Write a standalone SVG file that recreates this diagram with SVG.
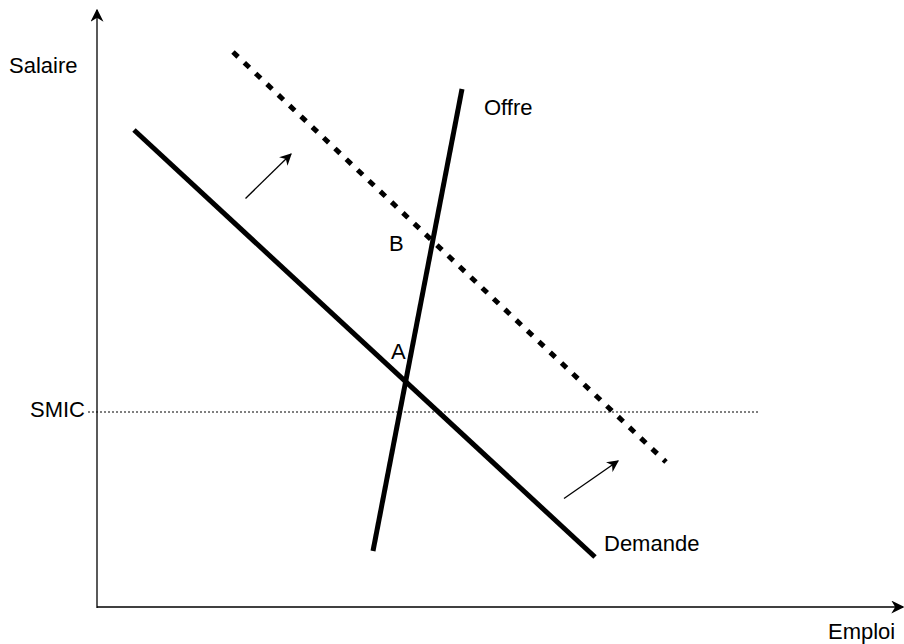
<svg xmlns="http://www.w3.org/2000/svg" width="904" height="644" viewBox="0 0 904 644">
<defs>
<style>
text{font-family:"Liberation Sans",Arial,sans-serif;font-size:22px;fill:#000}
.axis{stroke:#000;stroke-width:1.3;fill:none}
.thick{stroke:#000;stroke-width:5;fill:none}
.dash{stroke:#000;stroke-width:5;fill:none;stroke-dasharray:7 8.6}
.dot{stroke:#000;stroke-width:1;fill:none;stroke-dasharray:2 2}
.arr{stroke:#000;stroke-width:1.3;fill:none}
</style>
<marker id="ah" viewBox="0 0 10 10" refX="9" refY="5" markerWidth="12" markerHeight="12" markerUnits="userSpaceOnUse" orient="auto"><path d="M0,0 L10,5 L0,10 L3,5 Z" fill="#000"/></marker>
<marker id="ah2" viewBox="0 0 10 10" refX="9" refY="5" markerWidth="13" markerHeight="13" markerUnits="userSpaceOnUse" orient="auto"><path d="M0,0 L10,5 L0,10 L3,5 Z" fill="#000"/></marker>
</defs>
<g id="connectors">
<line class="axis" x1="97" y1="608" x2="97" y2="10" marker-end="url(#ah2)"/>
<line class="axis" x1="97" y1="607" x2="903" y2="607" marker-end="url(#ah2)"/>
<line class="dot" x1="88" y1="412" x2="758" y2="412"/>
<line class="thick" x1="134" y1="130" x2="595" y2="557"/>
<line class="thick" x1="373" y1="551" x2="462" y2="89"/>
<line class="dash" x1="233" y1="52" x2="666" y2="462"/>
<line class="arr" x1="245.5" y1="198.5" x2="291" y2="154" marker-end="url(#ah)"/>
<line class="arr" x1="564" y1="498.5" x2="618" y2="461" marker-end="url(#ah)"/>
</g>
<g id="labels">
<text x="9" y="73">Salaire</text>
<text x="828" y="639">Emploi</text>
<text x="30" y="417">SMIC</text>
<text x="484" y="115">Offre</text>
<text x="389" y="251">B</text>
<text x="391" y="359">A</text>
<text x="604" y="551">Demande</text>
</g>
</svg>
